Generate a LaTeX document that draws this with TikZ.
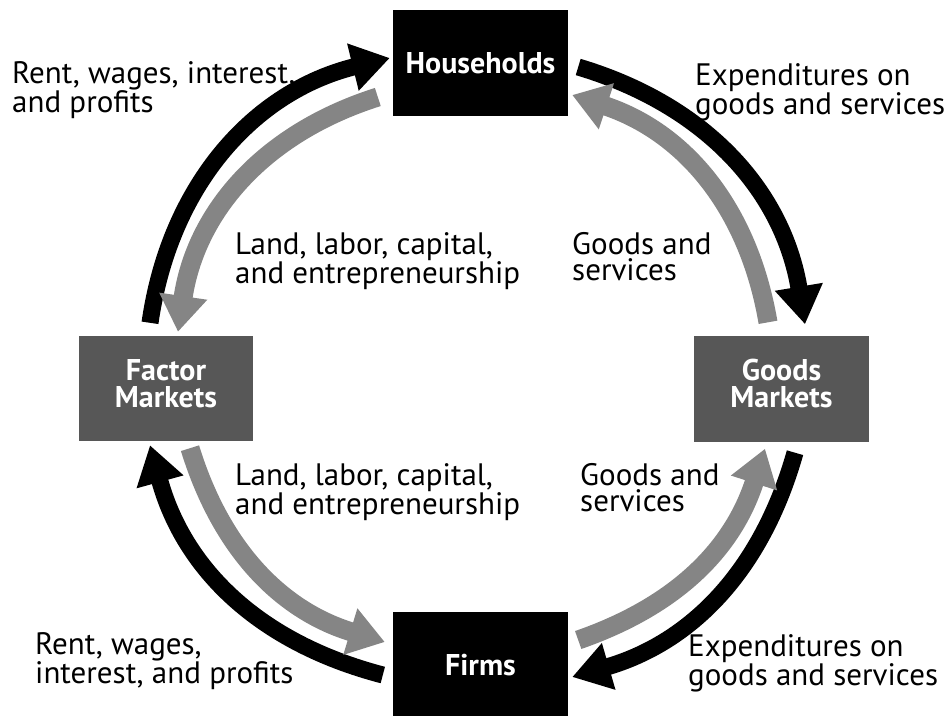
\documentclass[tikz,border=0pt]{standalone}
\usepackage{fontspec}
\setmainfont{PT Sans}
\usetikzlibrary{arrows.meta}
\definecolor{boxgray}{HTML}{575757}
\definecolor{arrgray}{HTML}{858585}
\tikzset{
  box/.style={rectangle, inner sep=0pt, minimum width=175pt, minimum height=106pt,
    text=white, align=center, font=\fontsize{30}{26.5}\selectfont\bfseries},
  blackbox/.style={box, fill=black},
  graybox/.style={box, fill=boxgray, text depth=10pt},
  lbl/.style={anchor=north west, inner sep=0pt, align=left,
    font=\fontsize{31}{26}\selectfont},
  flowblack/.style={draw=black, line width=17pt, -{Triangle[length=38pt,width=46pt]}},
  flowgray/.style={draw=arrgray, line width=19pt, -{Triangle[length=36pt,width=46pt]}}
}
\begin{document}
\begin{tikzpicture}[x=1pt,y=1pt]
\useasboundingbox (0,0) rectangle (949,-715);
\fill[white] (0,0) rectangle (949,-715);
\begin{scope}
\clip (0,0) rectangle (949,-715);
\node[blackbox] (hh) at (480.5,-63) {Households};
\node[graybox] (gm) at (781.5,-388.5) {Goods\\Markets};
\node[graybox, minimum width=174pt, minimum height=105pt] (fm) at (166,-388.5) {Factor\\Markets};
\node[blackbox] (fi) at (480.5,-665) {Firms};

% top-left
\draw[flowblack] ([shift={(-16,13)}]fm.north) to[bend left=34] ([shift={(-3,5)}]hh.west);
\draw[flowgray] ([shift={(-15,-34)}]hh.west) to[bend right=32] ([shift={(12,4)}]fm.north);
% top-right
\draw[flowblack] ([shift={(10,-4)}]hh.east) to[bend left=32] ([shift={(23.5,11)}]gm.north);
\draw[flowgray] ([shift={(-13.5,13)}]gm.north) to[bend right=31] ([shift={(4,-32)}]hh.east);
% bottom-right
\draw[flowblack] ([shift={(13.5,-11)}]gm.south) to[bend left=29] ([shift={(4,-12)}]fi.east);
\draw[flowgray] ([shift={(10,25)}]fi.east) to[bend right=26.5] ([shift={(-16.5,-7)}]gm.south);
% bottom-left
\draw[flowblack] ([shift={(-10,-10)}]fi.west) to[bend left=30] ([shift={(-16,-4)}]fm.south);
\draw[flowgray] ([shift={(24,-7)}]fm.south) to[bend right=28] ([shift={(-8,23)}]fi.west);

\node[lbl] (t1) at (12,-61) {Rent, wages, interest,\\and profits};
\node[lbl] (t2) at (695,-63) {Expenditures on\\goods and services};
\node[lbl] (t3) at (235,-232) {Land, labor, capital,\\and entrepreneurship};
\node[lbl] (t4) at (572,-232) {Goods and\\services};
\node[lbl] (t5) at (235,-463) {Land, labor, capital,\\and entrepreneurship};
\node[lbl] (t6) at (580,-463) {Goods and\\services};
\node[lbl] (t7) at (35,-632) {Rent, wages,\\interest, and profits};
\node[lbl] (t8) at (688,-634) {Expenditures on\\goods and services};
\end{scope}
\end{tikzpicture}
\end{document}
